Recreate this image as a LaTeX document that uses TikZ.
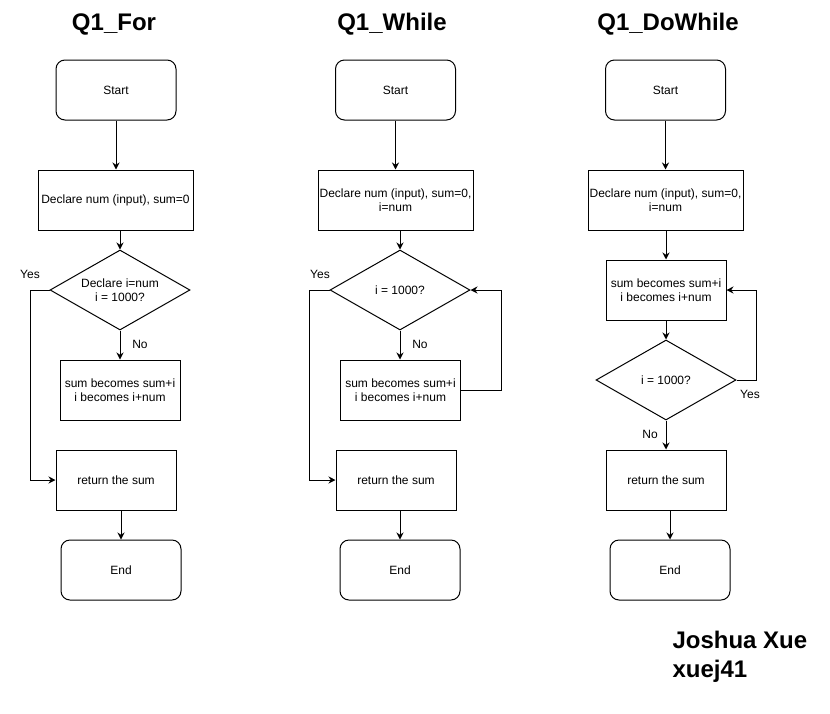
\documentclass[tikz,border=0pt]{standalone}
\usepackage{fontspec}
\setmainfont{Liberation Sans}
\usetikzlibrary{arrows.meta,shapes.geometric}
\begin{document}
\begin{tikzpicture}[x=1pt,y=-1pt,
  every node/.style={font=\fontsize{12pt}{14.4pt}\selectfont, inner sep=0pt, align=center},
  termbox/.style={draw, rounded corners=9pt, minimum width=120pt, minimum height=60pt},
  procbox/.style={draw, minimum width=120pt, minimum height=60pt},
  wideprocbox/.style={procbox, minimum width=155pt},
  decbox/.style={draw, diamond, aspect=1.75, minimum width=140pt, minimum height=80pt},
  flowtitle/.style={font=\fontsize{24pt}{28.8pt}\selectfont\bfseries, anchor=base},
  edgelabel/.style={},
  arr/.style={-{Stealth[length=7pt,width=7pt]}},
  line width=1pt]
\useasboundingbox (0,0) rectangle (830,713);

% ---------- Column 1: Q1_For ----------
\node[flowtitle] (t1) at (114,30) {Q1\_For};
\node[termbox] (s1) at (116,90) {Start};
\node[wideprocbox] (d1) at (115.5,200) {Declare num (input), sum=0};
\node[decbox] (q1) at (120,290) {Declare i=num\\i = 1000?};
\node[procbox] (b1) at (120,390) {sum becomes sum+i\\i becomes i+num};
\node[procbox] (r1) at (116,480) {return the sum};
\node[termbox] (e1) at (121,570) {End};
\node[edgelabel] (y1) at (30,274.5) {Yes};
\node[edgelabel] (n1) at (140,344.5) {No};

\draw[arr] (s1.south) -- (s1.south |- d1.north);
\draw[arr] (q1.north |- d1.south) -- (q1.north);
\draw[arr] (q1.south) -- (b1.north);
\draw[arr] (q1.west) -- ++(-19,0) |- (r1.west);
\draw[arr] (e1.north |- r1.south) -- (e1.north);

% ---------- Column 2: Q1_While ----------
\node[flowtitle] (t2) at (392,30) {Q1\_While};
\node[termbox] (s2) at (395.5,90) {Start};
\node[wideprocbox] (d2) at (395.5,200) {Declare num (input), sum=0,\\i=num};
\node[decbox] (q2) at (400,290) {i = 1000?};
\node[procbox] (b2) at (400.5,390) {sum becomes sum+i\\i becomes i+num};
\node[procbox] (r2) at (396,480) {return the sum};
\node[termbox] (e2) at (400,570) {End};
\node[edgelabel] (y2) at (320,274.5) {Yes};
\node[edgelabel] (n2) at (420,344.5) {No};

\draw[arr] (s2.south) -- (s2.south |- d2.north);
\draw[arr] (q2.north |- d2.south) -- (q2.north);
\draw[arr] (q2.south) -- (q2.south |- b2.north);
\draw[arr] (b2.east) -- ++(40.5,0) |- (q2.east);
\draw[arr] (q2.west) -- ++(-20.5,0) |- (r2.west);
\draw[arr] (e2.north |- r2.south) -- (e2.north);

% ---------- Column 3: Q1_DoWhile ----------
\node[flowtitle] (t3) at (668,30) {Q1\_DoWhile};
\node[termbox] (s3) at (665.5,90) {Start};
\node[wideprocbox] (d3) at (665.5,200) {Declare num (input), sum=0,\\i=num};
\node[procbox] (b3) at (666,290) {sum becomes sum+i\\i becomes i+num};
\node[decbox] (q3) at (666,380) {i = 1000?};
\node[procbox] (r3) at (666,480) {return the sum};
\node[termbox] (e3) at (670,570) {End};
\node[edgelabel] (y3) at (750,394) {Yes};
\node[edgelabel] (n3) at (650,434) {No};

\draw[arr] (s3.south) -- (s3.south |- d3.north);
\draw[arr] (b3.north |- d3.south) -- (b3.north);
\draw[arr] (b3.south) -- (q3.north);
\draw[arr] (q3.east) -- ++(20,0) |- (b3.east);
\draw[arr] (q3.south) -- (r3.north);
\draw[arr] (e3.north |- r3.south) -- (e3.north);

% ---------- Author ----------
\node[font=\fontsize{24pt}{28.8pt}\selectfont\bfseries, anchor=base west] (a1) at (672,648) {Joshua Xue};
\node[font=\fontsize{24pt}{28.8pt}\selectfont\bfseries, anchor=base west] (a2) at (672,677) {xuej41};
\end{tikzpicture}
\end{document}
